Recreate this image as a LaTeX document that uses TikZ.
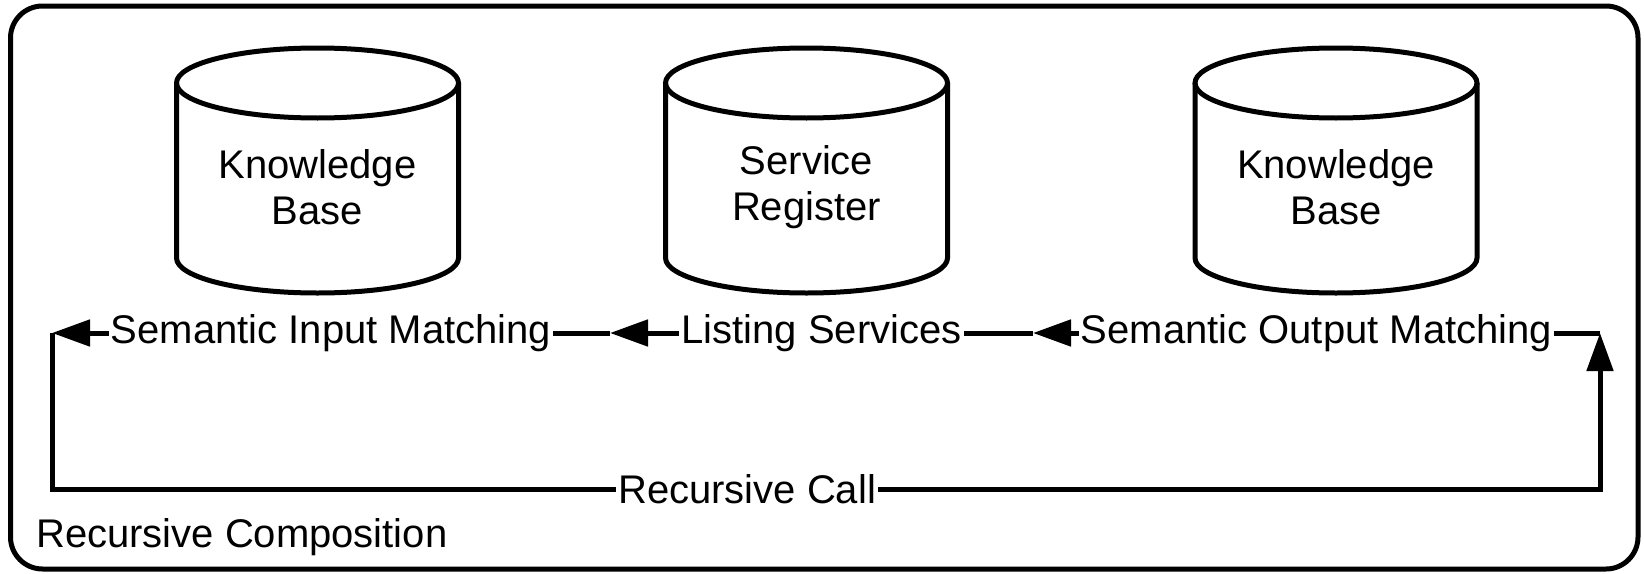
\documentclass[tikz,border=0pt]{standalone}
\usepackage{fontspec}
\setmainfont{Liberation Sans}
\usetikzlibrary{arrows.meta}

\begin{document}
\begin{tikzpicture}[x=0.5pt,y=-0.5pt,line width=2.5pt,
    every node/.style={font=\fontsize{20}{23}\selectfont},
    storetext/.style={align=center},
    flow/.style={-{Triangle[length=19pt,width=13pt]}},
    lbl/.style={fill=white,inner sep=1pt}]
    \useasboundingbox (0,0) rectangle (1644,573);

    % Outer frame
    \draw[rounded corners=16pt] (10.5,6) rectangle (1638,569);
    \node[anchor=west] (title) at (27,537) {Recursive Composition};

    % Stores: top cap, body with bottom cap, label
    \foreach \n/\x/\t in {kbin/317.5/Knowledge\\Base,
                          reg/806.5/Service\\Register,
                          kbout/1336/Knowledge\\Base} {
      \draw (\x,83) ellipse [x radius=70.5pt, y radius=17.5pt];
      \draw (\x-141,83) -- (\x-141,258)
        arc [start angle=180, end angle=360, x radius=70.5pt, y radius=17.5pt]
        -- (\x+141,83);
      \node[storetext] (\n) at (\x,187) {\t};
    }

    % Corner points of the loop
    \coordinate (lc) at (52,333);
    \coordinate (c1) at (610,333);
    \coordinate (c2) at (1033,333);
    \coordinate (rc) at (1600,333);
    \coordinate (lb) at (52,489);
    \coordinate (rb) at (1600,489);

    % Matching chain
    \draw[flow] (c1) -- node[lbl] {Semantic Input Matching} (lc);
    \draw[flow] (c2) -- node[lbl] {Listing Services} (c1);
    \draw[flow] (rc) -- node[lbl] {Semantic Output Matching} (c2);

    % Loop back
    \draw[flow] (lc) -- (lb) -- node[lbl,pos=0.449] {Recursive Call} (rb) -- (rc);
\end{tikzpicture}
\end{document}
